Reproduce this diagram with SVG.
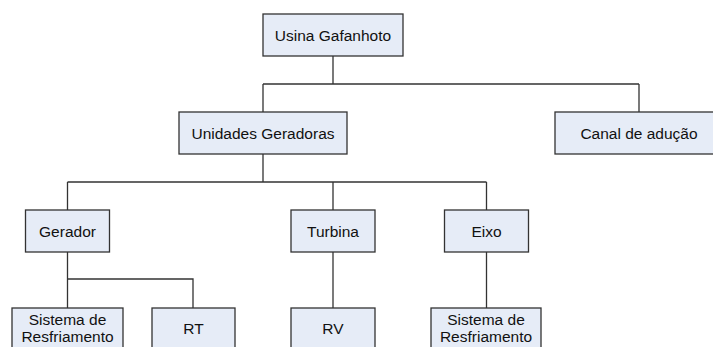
<svg xmlns="http://www.w3.org/2000/svg" width="713" height="347" viewBox="0 0 713 347">
<style>
.box{fill:#e6ecf7;stroke:#333;stroke-width:1.3}
.t{font-family:"Liberation Sans",Arial,sans-serif;font-size:15.5px;fill:#111;text-anchor:middle}
.c{fill:none;stroke:#333;stroke-width:1.3}
</style>
<rect width="713" height="347" fill="#fff"/>
<g id="connectors">
<path class="c" d="M333 56V84M263 84H639M263 84V112M639 84V112"/>
<path class="c" d="M263 154V182M67.5 182H486.5M67.5 182V210M333 182V210M486.5 182V210"/>
<path class="c" d="M67.5 252V279H193V308M67.5 279V308"/>
<path class="c" d="M333 252V308"/>
<path class="c" d="M486.5 252V308"/>
</g>
<g id="usina"><rect class="box" x="263" y="14" width="140" height="42"/><text class="t" x="333" y="40.5">Usina Gafanhoto</text></g>
<g id="unidades"><rect class="box" x="179" y="112" width="168" height="42"/><text class="t" x="263" y="138.5">Unidades Geradoras</text></g>
<g id="canal"><rect class="box" x="555" y="112" width="168" height="42"/><text class="t" x="639" y="138.5">Canal de adução</text></g>
<g id="gerador"><rect class="box" x="25.5" y="210" width="84" height="42"/><text class="t" x="67.5" y="236.5">Gerador</text></g>
<g id="turbina"><rect class="box" x="291" y="210" width="84" height="42"/><text class="t" x="333" y="236.5">Turbina</text></g>
<g id="eixo"><rect class="box" x="444.5" y="210" width="84" height="42"/><text class="t" x="486.5" y="236.5">Eixo</text></g>
<g id="sistema1"><rect class="box" x="12" y="308" width="111" height="44"/><text class="t" x="67.5" y="325">Sistema de</text><text class="t" x="67.5" y="342">Resfriamento</text></g>
<g id="rt"><rect class="box" x="152" y="308" width="83" height="44"/><text class="t" x="193.5" y="334">RT</text></g>
<g id="rv"><rect class="box" x="291" y="308" width="84" height="44"/><text class="t" x="333" y="334">RV</text></g>
<g id="sistema2"><rect class="box" x="431" y="308" width="110" height="44"/><text class="t" x="486" y="325">Sistema de</text><text class="t" x="486" y="342">Resfriamento</text></g>
</svg>
